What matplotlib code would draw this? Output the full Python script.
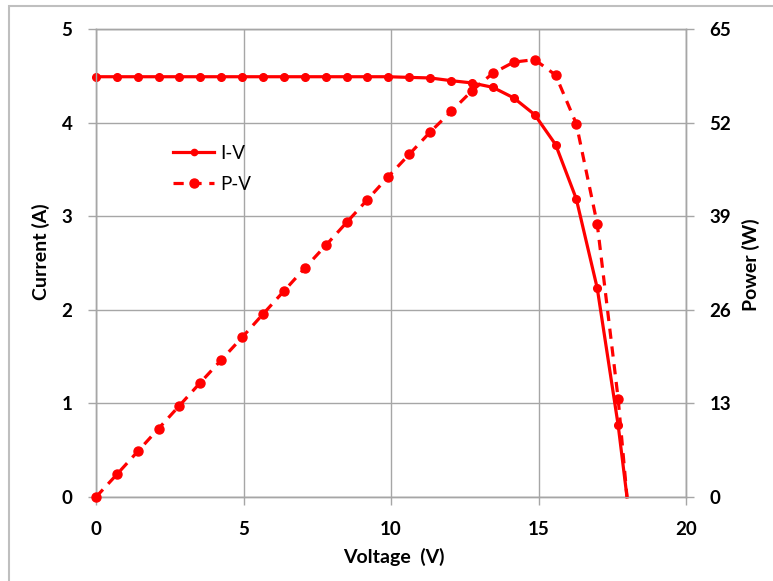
import matplotlib
matplotlib.use("Agg")
import matplotlib.pyplot as plt
from matplotlib.patches import Rectangle
from matplotlib.lines import Line2D

# values
voltage = [0.0, 0.71, 1.42, 2.12, 2.83, 3.54, 4.25, 4.96, 5.66, 6.37,
           7.08, 7.79, 8.50, 9.20, 9.91, 10.62, 11.33, 12.04, 12.74, 13.45,
           14.16, 14.87, 15.58, 16.28, 16.99, 17.70, 18.0]
current = [4.49, 4.49, 4.49, 4.49, 4.49, 4.49, 4.49, 4.49, 4.49, 4.49,
           4.49, 4.49, 4.49, 4.49, 4.49, 4.483, 4.477, 4.448, 4.424, 4.377,
           4.264, 4.085, 3.765, 3.186, 2.233, 0.768, 0.0]
power = [0.0, 3.15, 6.35, 9.5, 12.7, 15.9, 19.05, 22.2, 25.4, 28.6,
         31.8, 34.95, 38.15, 41.3, 44.5, 47.6, 50.7, 53.55, 56.4, 58.85,
         60.4, 60.75, 58.6, 51.85, 37.95, 13.65, 0.0]

xticks = [0, 5, 10, 15, 20]
iticks = [0, 1, 2, 3, 4, 5]
pticks = [0, 13, 26, 39, 52, 65]

W, H = 773, 581
grid_col = "#a6a6a6"
red = "#ff0000"
plt.rcParams['font.family'] = ['Lato', 'DejaVu Sans']

fig = plt.figure(figsize=(W / 100, H / 100), dpi=100)
ax = fig.add_axes([96 / W, 1 - 497 / H, (686 - 96) / W, (497 - 29) / H])
ax2 = ax.twinx()

mk = list(range(len(voltage) - 1))
ax.plot(voltage, current, color=red, lw=2.3, marker="o", ms=5.5,
        markevery=mk, zorder=3, clip_on=False)
ax2.plot(voltage, power, color=red, lw=2.3, ls=(0, (3.2, 2.4)), marker="o",
         ms=6.5, markevery=mk, zorder=3, clip_on=False)

ax.set_xlim(0, 20)
ax.set_ylim(0, 5)
ax2.set_ylim(0, 65)
ax.set_xticks(xticks)
ax.set_yticks(iticks)
ax2.set_yticks(pticks)
ax.grid(True, color=grid_col, lw=1.0)
ax.set_axisbelow(True)

for a in (ax, ax2):
    for s in a.spines.values():
        s.set_color(grid_col)
        s.set_linewidth(1.0)
    a.tick_params(colors=grid_col, length=6, width=1.0, labelsize=13.5,
                  labelcolor="black")
    for t in a.get_xticklabels() + a.get_yticklabels():
        t.set_fontweight("bold")
ax.tick_params(axis="y", pad=11)
ax.tick_params(axis="x", pad=11)
ax2.tick_params(axis="y", pad=11)

fig.text(41 / W, 1 - 252 / H, "Current (A)", rotation=90, ha="center",
         va="center", fontsize=14, fontweight="bold")
fig.text(751 / W, 1 - 265 / H, "Power (W)", rotation=90, ha="center",
         va="center", fontsize=14, fontweight="bold")
fig.text(394 / W, 1 - 557 / H, "Voltage  (V)", ha="center", va="center",
         fontsize=14, fontweight="bold")

handles = [Line2D([], [], color=red, lw=2.3, marker="o", ms=4.5),
           Line2D([], [], color=red, lw=2.3, ls=(0, (3.2, 2.4)), marker="o", ms=6.5)]
ax2.legend(handles, ["I-V", "P-V"], loc="upper left",
           bbox_to_anchor=(156 / W, 1 - 128 / H), bbox_transform=fig.transFigure,
           frameon=False, fontsize=13.5, handlelength=2.2, handletextpad=0.3,
           labelspacing=0.75)

fig.patches.append(Rectangle((9 / W, -0.1), 1.0, 1.1 - 6 / H,
                             transform=fig.transFigure, fill=False,
                             edgecolor="#bfbfbf", lw=1.5))

fig.savefig("out.png", dpi=100)
